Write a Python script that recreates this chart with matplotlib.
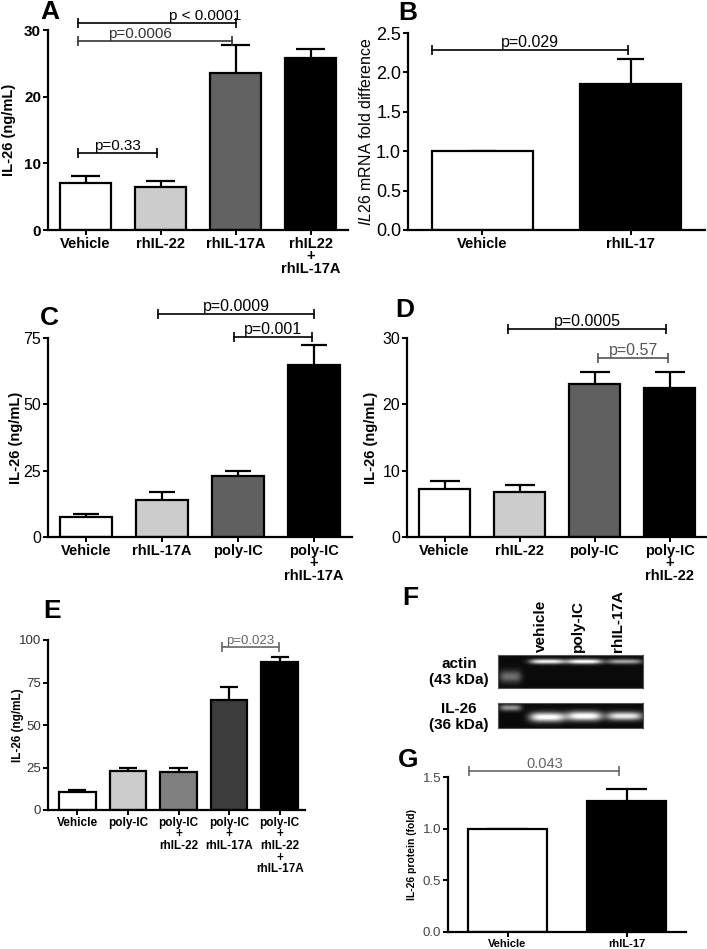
import numpy as np
import matplotlib.pyplot as plt

plt.rcParams['font.family'] = ['Liberation Sans', 'DejaVu Sans']
plt.rcParams['mathtext.fontset'] = 'custom'
plt.rcParams['mathtext.it'] = 'Liberation Sans:italic'
plt.rcParams['mathtext.rm'] = 'Liberation Sans'

W, H = 707, 949

# --- data ---
a_labels = ['Vehicle', 'rhIL-22', 'rhIL-17A', 'rhIL22\n+\nrhIL-17A']
a_means = [7.0, 6.4, 23.5, 25.8]
a_err = [1.1, 0.9, 4.2, 1.4]

b_labels = ['Vehicle', 'rhIL-17']
b_means = [1.0, 1.85]
b_err = [0.0, 0.32]

c_labels = ['Vehicle', 'rhIL-17A', 'poly-IC', 'poly-IC\n+\nrhIL-17A']
c_means = [7.5, 14.0, 23.0, 65.0]
c_err = [1.0, 3.0, 2.0, 7.5]

d_labels = ['Vehicle', 'rhIL-22', 'poly-IC', 'poly-IC\n+\nrhIL-22']
d_means = [7.3, 6.8, 23.0, 22.4]
d_err = [1.1, 1.0, 1.9, 2.4]

e_labels = ['Vehicle', 'poly-IC', 'poly-IC\n+\nrhIL-22', 'poly-IC\n+\nrhIL-17A',
            'poly-IC\n+\nrhIL-22\n+\nrhIL-17A']
e_means = [10.5, 23.0, 22.5, 65.0, 87.0]
e_err = [1.0, 2.0, 2.5, 7.5, 3.0]

g_labels = ['Vehicle', 'rhIL-17']
g_means = [1.0, 1.27]
g_err = [0.0, 0.11]

blot_lanes = ['vehicle', 'poly-IC', 'rhIL-17A']
# lane centre (px in blot), band brightness for actin and IL-26 (marker lane first)
lane_x = [12, 49, 86, 126]
actin_int = [0.4, 0.9, 0.95, 0.6]
il26_int = [0.55, 1.0, 1.0, 0.9]

fig = plt.figure(figsize=(W / 100, H / 100), dpi=100)


def pax(l, t, r, b):
    return fig.add_axes([l / W, 1 - b / H, (r - l) / W, (b - t) / H])


def bar_panel(ax, labels, means, errs, colors, width, capw, ymax, yticks,
              xfs, tfs, tbold=False, tcolor='black', lsp=0.85):
    x = np.arange(len(means))
    ax.bar(x, means, width, color=colors, edgecolor='black', linewidth=1.6, zorder=2)
    tops = np.array(means) + np.array(errs)
    ax.vlines(x, means, tops, color='black', lw=1.6, zorder=1)
    ax.hlines(tops, x - capw, x + capw, color='black', lw=1.6, zorder=1)
    ax.set_xlim(-0.5, len(means) - 0.5)
    ax.set_ylim(0, ymax)
    ax.set_yticks(yticks)
    ax.set_xticks(x)
    ax.set_xticklabels(labels, fontsize=xfs, fontweight='bold', linespacing=lsp)
    for t in ax.get_yticklabels():
        t.set_fontsize(tfs)
        t.set_color(tcolor)
        if tbold:
            t.set_fontweight('bold')
    for s in ['top', 'right']:
        ax.spines[s].set_visible(False)
    for s in ['left', 'bottom']:
        ax.spines[s].set_linewidth(1.6)
    ax.tick_params(direction='out', length=3.5, width=1.4, pad=1.5)
    ax.patch.set_alpha(0)


def bracket(ax, x1, x2, y, txt, color='black', fs=10.5, xt=None):
    ax.plot([x1, x2], [y, y], color=color, lw=1.2, marker='|', markersize=7,
            mew=1.2, clip_on=False)
    if xt is None:
        xt = (x1 + x2) / 2
    ax.annotate(txt, xy=(xt, y), xytext=(0, 0), textcoords='offset points',
                ha='center', va='bottom', fontsize=fs, color=color,
                annotation_clip=False)


def ylab(x, ax, txt, fs, bold=True):
    pos = ax.get_position()
    fig.text(x / W, pos.y0 + pos.height / 2, txt, rotation=90, ha='center',
             va='center', fontsize=fs, fontweight='bold' if bold else 'normal')


def letter(x, y, s):
    fig.text(x / W, 1 - y / H, s, fontsize=19, fontweight='bold', va='baseline')


# A
ax = pax(48, 30, 348, 230)
bar_panel(ax, a_labels, a_means, a_err, ['white', '#cccccc', '#626262', 'black'],
          0.68, 0.19, 30, [0, 10, 20, 30], 10.5, 11, tbold=True)
bracket(ax, -0.1, 2.0, 31.0, 'p < 0.0001', fs=11, xt=1.6)
bracket(ax, -0.1, 1.95, 28.3, 'p=0.0006', color='#333333', fs=11, xt=0.72)
bracket(ax, -0.1, 0.95, 11.5, 'p=0.33', fs=11)
ax.set_xlim(-0.5, 3.5)
ylab(9, ax, 'IL-26 (ng/mL)', 10.5)
letter(40, 19, 'A')

# B
ax = pax(408, 33, 705, 230)
bar_panel(ax, b_labels, b_means, b_err, ['white', 'black'], 0.68, 0.09, 2.5,
          [0, 0.5, 1.0, 1.5, 2.0, 2.5], 10.5, 13)
ax.set_yticklabels(['0.0', '0.5', '1.0', '1.5', '2.0', '2.5'])
bracket(ax, -0.34, 0.98, 2.28, 'p=0.029', fs=11.5)
ylab(366, ax, r'$\mathit{IL26}$ mRNA fold difference', 11.5, bold=False)
letter(398, 20, 'B')

# C
ax = pax(48, 338, 352, 537)
bar_panel(ax, c_labels, c_means, c_err, ['white', '#cccccc', '#606060', 'black'],
          0.68, 0.17, 75, [0, 25, 50, 75], 10.5, 11.5)
bracket(ax, 0.95, 3.0, 84, 'p=0.0009', fs=11.5)
bracket(ax, 1.95, 2.97, 75.3, 'p=0.001', fs=11.5)
ylab(16, ax, 'IL-26 (ng/mL)', 10.5)
letter(40, 325, 'C')

# D
ax = pax(407, 338, 707, 537)
bar_panel(ax, d_labels, d_means, d_err, ['white', '#cccccc', '#606060', 'black'],
          0.68, 0.2, 30, [0, 10, 20, 30], 10.5, 11.5)
bracket(ax, 0.85, 2.95, 31.4, 'p=0.0005', fs=11.5)
bracket(ax, 2.05, 2.98, 27.0, 'p=0.57', color='#555555', fs=11.5)
ylab(371, ax, 'IL-26 (ng/mL)', 10.5)
letter(395, 317, 'D')

# E
ax = pax(48, 640, 305, 810)
bar_panel(ax, e_labels, e_means, e_err, ['white', '#cccccc', '#808080', '#3c3c3c', 'black'],
          0.72, 0.18, 100, [0, 25, 50, 75, 100], 8.5, 9.5, tcolor='#333333', lsp=0.95)
ax.set_xlim(-0.58, 4.5)
bracket(ax, 2.85, 3.98, 95.9, 'p=0.023', color='#666666', fs=9.5)
ylab(18, ax, 'IL-26 (ng/mL)', 8.5)
letter(43, 618, 'E')

# F - blot
for (t, b, ints, ycen, ysig) in [(655, 688, actin_int, [21, 6, 6, 6], [6, 2.5, 2.5, 2.5]),
                                  (703, 728, il26_int, [5, 14, 13, 13], [3, 4.5, 4.5, 4])]:
    bax = pax(498, t, 643, b)
    hh, ww = b - t, 145
    yy, xx = np.mgrid[0:hh, 0:ww]
    img = np.full((hh, ww), 0.04)
    for lx, inten, yc, ys in zip(lane_x, ints, ycen, ysig):
        xs = 11 if lx < 20 else 18
        img += inten * np.exp(-((xx - lx) / xs) ** 4) * np.exp(-((yy - yc) / ys) ** 2)
    bax.imshow(np.clip(img, 0, 1), cmap='gray', vmin=0, vmax=1, aspect='auto',
               interpolation='bilinear')
    bax.set_xticks([])
    bax.set_yticks([])
    for s in bax.spines.values():
        s.set_color('#555555')
        s.set_linewidth(0.8)
for lx, name in zip(lane_x[1:], blot_lanes):
    fig.text((498 + lx - 6) / W, 1 - 652 / H, name, rotation=90, ha='center',
             va='bottom', fontsize=11, fontweight='bold')
fig.text(459 / W, 1 - 672 / H, 'actin\n(43 kDa)', ha='center', va='center',
         fontsize=11, fontweight='bold', linespacing=1.1)
fig.text(459 / W, 1 - 717 / H, 'IL-26\n(36 kDa)', ha='center', va='center',
         fontsize=11, fontweight='bold', linespacing=1.1)
letter(402, 605, 'F')

# G
ax = pax(448, 777, 686, 932)
bar_panel(ax, g_labels, g_means, g_err, ['white', 'black'], 0.67, 0.17, 1.5,
          [0, 0.5, 1.0, 1.5], 8, 9.5, tcolor='#444444')
ax.set_yticklabels(['0.0', '0.5', '1.0', '1.5'])
bracket(ax, -0.32, 0.94, 1.56, '0.043', color='#666666', fs=10.5)
ylab(412, ax, 'IL-26 protein (fold)', 7.5)
letter(398, 767, 'G')

fig.savefig('out.png', dpi=100)
